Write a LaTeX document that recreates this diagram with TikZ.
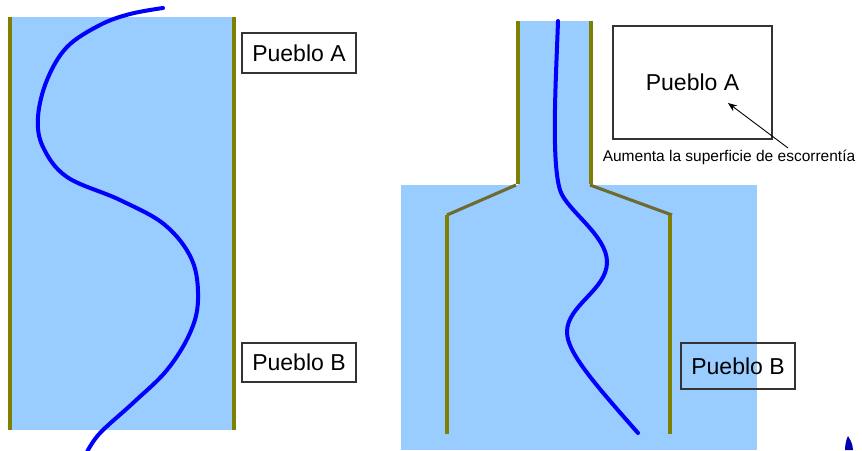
\documentclass[tikz,border=0pt]{standalone}
\usepackage{fontspec}
\setmainfont{Liberation Sans}
\usetikzlibrary{arrows.meta}
\definecolor{water}{HTML}{99CCFF}
\definecolor{river}{HTML}{0000FF}
\definecolor{bank}{HTML}{808000}
\definecolor{bankdark}{HTML}{6E6A30}
\begin{document}
\begin{tikzpicture}[x=1pt,y=-1pt,
  townbox/.style={draw=black!80,line width=1.1pt,inner sep=0pt,font=\fontsize{23}{27}\selectfont},
  riverline/.style={draw=river,line width=4pt,line cap=round},
  bankline/.style={draw=bank,line width=3.1pt},
  slopeline/.style={draw=bankdark,line width=3.1pt}]
\useasboundingbox (0,0) rectangle (862,450);
% left panel
\fill[water] (10,17) rectangle (233,430);
\draw[bankline] (10,17) -- (10,430);
\draw[bankline] (234,17) -- (234,430);
\draw[riverline] plot[smooth,tension=0.6] coordinates {(163,8) (130,14) (100,25) (67,47) (47,80) (38,117) (43,147) (67,177) (120,200) (165,225) (192,260) (198,300) (190,333) (167,370) (133,403) (100,433) (87,452)};
\node[townbox,minimum width=114pt,minimum height=40pt] (pa1) at (299,53) {Pueblo A};
\node[townbox,minimum width=114pt,minimum height=39pt] (pb1) at (299,362.5) {Pueblo B};
% right panel
\fill[water] (518,21) rectangle (591,186);
\fill[water] (401,185) rectangle (757,450);
\draw[bankline] (518,21) -- (518,184);
\draw[bankline] (591,21) -- (591,184);
\draw[slopeline] (516,185) -- (447,215);
\draw[slopeline] (590,185) -- (672,215);
\draw[bankline] (447,215) -- (447,434);
\draw[bankline] (670,215) -- (670,434);
\draw[riverline] (558,21) .. controls (556,80) and (551,160) .. (560,190)
  .. controls (566,210) and (607,235) .. (607,262)
  .. controls (607,290) and (567,305) .. (567,332)
  .. controls (567,352) and (593,382) .. (638,433);
\node[townbox,minimum width=159pt,minimum height=113pt] (pa2) at (692.5,82.5) {Pueblo A};
\node[townbox,minimum width=114pt,minimum height=46pt] (pb2) at (738,366) {Pueblo B};
\node[font=\fontsize{15.5}{18}\selectfont,inner sep=0pt] (lab) at (729,157) {Aumenta la superficie de escorrentía};
\coordinate (arrfrom) at (788,148);
\coordinate (arrto) at (728,103);
\draw[line width=0.9pt,-{Stealth[length=9pt,width=7pt]}] (arrfrom) -- (arrto);
% partial mark at bottom right
\fill[river!70!black] (845,450) .. controls (845,443) and (847,438) .. (848,436) .. controls (849,438) and (853,443) .. (853,450) -- cycle;
\end{tikzpicture}
\end{document}
